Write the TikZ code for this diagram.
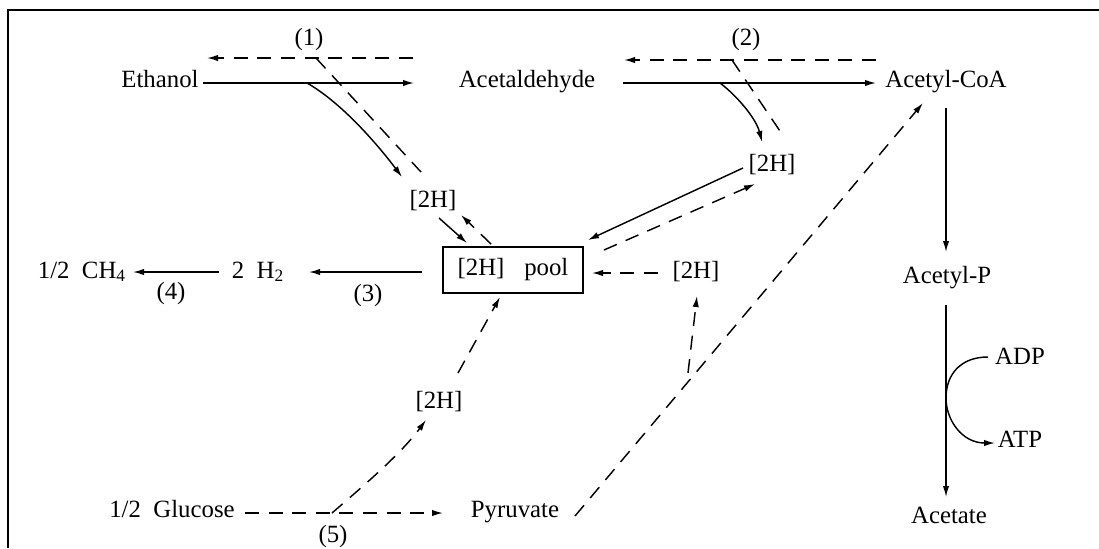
\documentclass[tikz,border=0pt]{standalone}
\usepackage{fontspec}
\setmainfont{Liberation Serif}
\usetikzlibrary{arrows.meta,calc}
\begin{document}
\begin{tikzpicture}[x=0.5pt,y=-0.5pt,
  txt/.style={inner sep=0pt, text height=8pt, text depth=2.5pt, font=\fontsize{12.4pt}{14pt}\selectfont},
  tip/.style={-{Latex[length=5.5pt,width=3.2pt]}},
  sl/.style={line width=0.72pt},
  sol/.style={sl, tip},
  dsh/.style={line width=0.72pt, dash pattern=on 7pt off 4.8pt},
  dar/.style={dsh, tip},
  frame/.style={line width=0.9pt}
]
\useasboundingbox (0,0) rectangle (1099,548);
% frame
\draw[frame] (8,548) -- (8,10) -- (1099,10);

% nodes
\node[txt] (l1) at (309,40) {(1)};
\node[txt] (l2) at (746,40) {(2)};
\node[txt] (ethanol) at (160,81.5) {Ethanol};
\node[txt] (acetald) at (527,81.5) {Acetaldehyde};
\node[txt] (acoa) at (946,81.5) {Acetyl-CoA};
\node[txt] (h1) at (433,202) {[2H]};
\node[txt] (h2) at (772,166) {[2H]};
\node[draw, sl, inner sep=0pt, minimum width=70pt, minimum height=23pt,
      font=\fontsize{12.4pt}{14pt}\selectfont] (pool) at (513,270) {[2H]\hspace{0.8em}pool};
\node[txt] (ch4) at (82,272.5) {1/2\hspace{0.5em}CH\textsubscript{4}};
\node[txt] (hh) at (258,272.5) {2\hspace{0.5em}H\textsubscript{2}};
\node[txt] (l4) at (171,294) {(4)};
\node[txt] (l3) at (368,296) {(3)};
\node[txt] (h3) at (696,272.5) {[2H]};
\node[txt] (acp) at (947,277.5) {Acetyl-P};
\node[txt] (h4) at (439,403) {[2H]};
\node[txt] (glu) at (172,511.5) {1/2\hspace{0.5em}Glucose};
\node[txt] (pyr) at (515,511.5) {Pyruvate};
\node[txt] (l5) at (333,537) {(5)};
\node[txt] (acetate) at (949,517.5) {Acetate};
\node[txt] (adp) at (1020,358.5) {ADP};
\node[txt] (atp) at (1020,441.5) {ATP};

% junction points
\coordinate (j1) at (316,58);
\coordinate (j2) at (732,60);
\coordinate (j3) at (688,373);
\coordinate (j5) at (332,513);
\coordinate (jp) at (946,398);

% reaction (1)
\draw[sol] ($(ethanol)+(43,1.5)$) -- ($(acetald)+(-113,1.5)$);
\draw[dar] ($(l1)+(104,18)$) -- ($(l1)+(-102,18)$);
\draw[dsh] (j1) -- ($(h1)+(-12,-30)$);
\draw[sol] ($(ethanol)+(147,1.5)$) .. controls (342,103) and (378,145) .. ($(h1)+(-31,-25)$);

% reaction (2)
\draw[sol] ($(acetald)+(96,1.5)$) -- ($(acoa)+(-70,1.5)$);
\draw[dar] ($(l2)+(130,20)$) -- ($(l2)+(-122,20)$);
\draw[dsh] (j2) -- ($(h2)+(12,-29)$);
\draw[sol] ($(acetald)+(193,1.5)$) .. controls (736,95) and (756,118) .. ($(h2)+(-10,-24)$);

% [2H] exchanges with pool
\draw[sol] ($(h1)+(6,16)$) -- ($(pool)+(-46,-27)$);
\draw[dar] ($(pool)+(-22,-26)$) -- ($(h1)+(28,13)$);
\draw[sol] ($(h2)+(-29,2)$) -- ($(pool)+(75,-30)$);
\draw[dar] ($(pool)+(91,-20)$) -- ($(h2)+(-17,18)$);

% pool to methane
\draw[sol] ($(pool)+(-91,2)$) -- ($(hh)+(51,-0.5)$);
\draw[sol] ($(hh)+(-39,-0.5)$) -- ($(ch4)+(51,-0.5)$);

% right [2H]
\draw[dar] ($(h3)+(-38,0.5)$) -- ($(pool)+(79,3)$);
\draw[dar] (j3) -- ($(h3)+(1,23.5)$);

% glucose branch
\draw[dar] ($(glu)+(73,1.5)$) -- ($(pyr)+(-72,1.5)$);
\draw[dar] (j5) .. controls (362,487) and (400,455) .. ($(h4)+(-13,17)$);
\draw[dar] ($(h4)+(19,-30)$) -- ($(pool)+(-13,27)$);
\draw[dar] ($(pyr)+(60,4.5)$) -- ($(acoa)+(-23,21.5)$);

% acetate branch
\draw[sol] ($(acoa)+(0,26.5)$) -- ($(acp)+(-1,-25.5)$);
\draw[sol] ($(acp)+(-1,27.5)$) -- ($(acetate)+(-3,-20.5)$);
\draw[sol] ($(adp)+(-32,-1.5)$) .. controls (960,357) and (946,375) .. (jp)
  .. controls (946,420) and (962,443) .. ($(atp)+(-25,1.5)$);
\end{tikzpicture}
\end{document}
